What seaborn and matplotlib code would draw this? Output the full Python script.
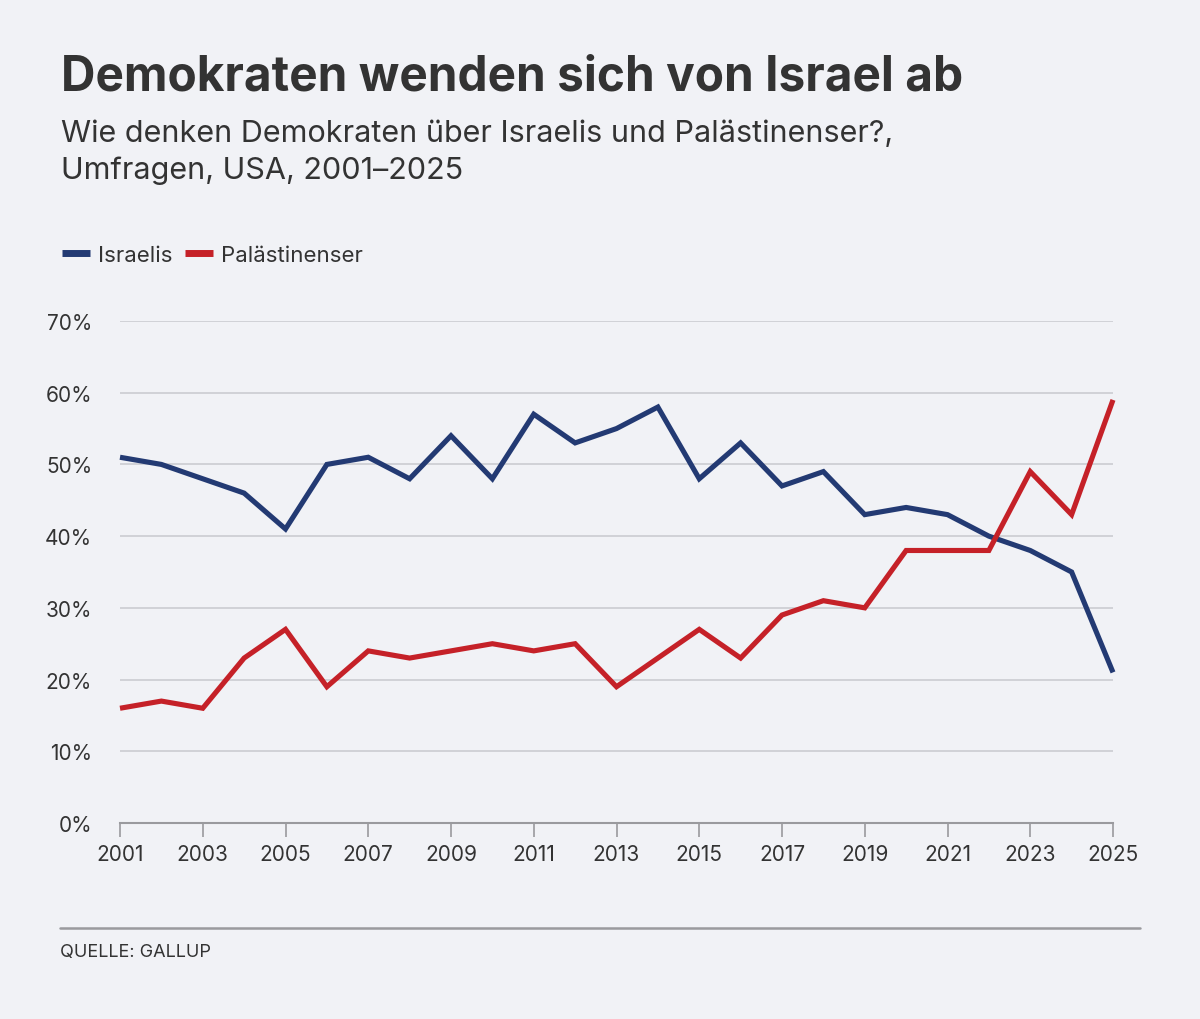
import matplotlib
matplotlib.use("Agg")
import matplotlib.pyplot as plt
import seaborn as sns
import pandas as pd
from matplotlib.lines import Line2D

years = list(range(2001, 2026))
israelis = [51, 50, 48, 46, 41, 50, 51, 48, 54, 48, 57, 53, 55, 58, 48, 53, 47, 49, 43, 44, 43, 40, 38, 35, 21]
palaestinenser = [16, 17, 16, 23, 27, 19, 24, 23, 24, 25, 24, 25, 19, 23, 27, 23, 29, 31, 30, 38, 38, 38, 49, 43, 59]
series_names = ["Israelis", "Palästinenser"]
colors = ["#233a73", "#c52128"]
y_ticks = [0, 10, 20, 30, 40, 50, 60, 70]
x_ticks = list(range(2001, 2026, 2))

title = "Demokraten wenden sich von Israel ab"
subtitle_lines = ["Wie denken Demokraten über Israelis und Palästinenser?,", "Umfragen, USA, 2001–2025"]
source = "QUELLE: GALLUP"

df = pd.DataFrame({
    "Jahr": years * 2,
    "Wert": israelis + palaestinenser,
    "Gruppe": [series_names[0]] * len(years) + [series_names[1]] * len(years),
})

bg = "#f1f2f6"
txt = "#333333"
sns.set_theme(style="white")
plt.rcParams["font.family"] = ["Inter", "DejaVu Sans"]

fig = plt.figure(figsize=(12, 10.2), dpi=100, facecolor=bg)
ax = fig.add_axes([0.1, 1 - 824 / 1020, 0.8275, (824 - 322) / 1020])
ax.set_facecolor(bg)

sns.lineplot(data=df, x="Jahr", y="Wert", hue="Gruppe", palette=dict(zip(series_names, colors)),
             linewidth=3.7, ax=ax, legend=False, clip_on=False, zorder=3)
for ln in ax.get_lines():
    ln.set_solid_capstyle("butt")
    ln.set_solid_joinstyle("miter")

ax.set_xlim(2001, 2025)
ax.set_ylim(0, 70)
ax.set_yticks(y_ticks)
ax.set_yticklabels([f"{v}%" for v in y_ticks])
ax.set_xticks(x_ticks)
ax.set_xticklabels([str(v) for v in x_ticks])
ax.grid(axis="y", color="#c8c9ce", linewidth=1.1)
ax.grid(axis="x", visible=False)
for s in ["top", "right", "left"]:
    ax.spines[s].set_visible(False)
ax.spines["bottom"].set_color("#9a9a9e")
ax.spines["bottom"].set_linewidth(1.5)
ax.tick_params(axis="x", bottom=True, length=10, width=1.2, color="#9a9a9e", labelsize=15, labelcolor=txt, pad=5)
ax.tick_params(axis="y", left=False, labelsize=15, labelcolor=txt, pad=14)
ax.set_xlabel("")
ax.set_ylabel("")

fig.text(61 / 1200, 1 - 78 / 1020, title, fontsize=34.4, fontweight="bold", color=txt, va="center", ha="left")
fig.text(61 / 1200, 1 - 134 / 1020, subtitle_lines[0], fontsize=22, color=txt, va="center", ha="left")
fig.text(61 / 1200, 1 - 171 / 1020, subtitle_lines[1], fontsize=22, color=txt, va="center", ha="left")

handles = [Line2D([0], [0], color=c, linewidth=5, solid_capstyle="butt") for c in colors]
fig.legend(handles, series_names, loc="center left", bbox_to_anchor=(62 / 1200, 1 - 256 / 1020),
           frameon=False, fontsize=16, handlelength=1.27, handletextpad=0.36, columnspacing=0.55, ncol=2,
           labelcolor=txt, borderpad=0, borderaxespad=0)

fig.add_artist(Line2D([60 / 1200, 1140 / 1200], [1 - 929 / 1020, 1 - 929 / 1020], color="#9a9a9e", linewidth=1.8))
fig.text(60 / 1200, 1 - 953 / 1020, source, fontsize=13, color=txt, va="center", ha="left")

fig.savefig("out.png", dpi=100, facecolor=bg)
